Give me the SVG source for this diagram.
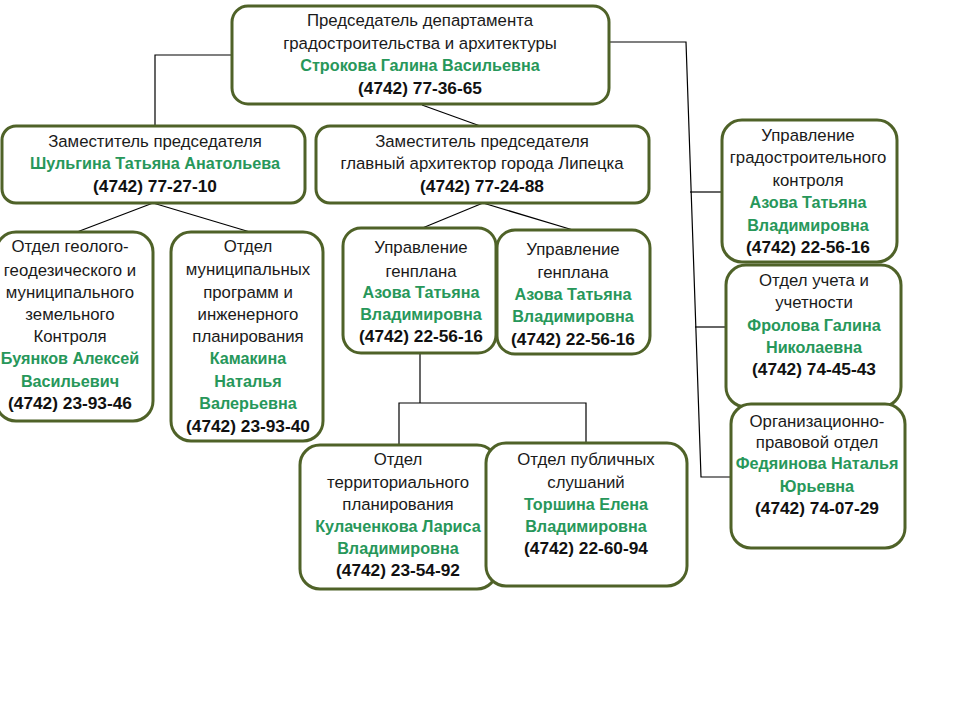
<svg xmlns="http://www.w3.org/2000/svg" width="960" height="720" viewBox="0 0 960 720">
<style>
.box{fill:#ffffff;stroke:#4f6228;stroke-width:3}
.t{font-family:"Liberation Sans",Arial,sans-serif;font-size:16.8px;text-anchor:middle;fill:#1a1a1a}
.g{font-weight:bold;fill:#27975a;font-size:16.2px}
.p{font-weight:bold;fill:#111111;font-size:17.3px}
.ln{stroke:#000000;stroke-width:1.2;fill:none}
</style>
<rect width="960" height="720" fill="#ffffff"/>
<g id="connectors">
<polyline class="ln" points="232,55 155,55 155,127"/>
<line class="ln" x1="422" y1="105" x2="483" y2="127"/>
<polyline class="ln" points="609,42 686,42 701,477 731,477"/>
<line class="ln" x1="690" y1="192" x2="722" y2="192"/>
<line class="ln" x1="695" y1="327" x2="726" y2="327"/>
<line class="ln" x1="153" y1="203" x2="77" y2="232"/>
<line class="ln" x1="153" y1="203" x2="250" y2="232"/>
<line class="ln" x1="483" y1="203" x2="420" y2="229"/>
<line class="ln" x1="483" y1="203" x2="573" y2="230"/>
<polyline class="ln" points="420,353 420,403"/>
<polyline class="ln" points="399,445 399,403 586,403 586,443"/>
</g>
<g id="chair">
<rect class="box" x="232" y="6" width="377" height="98" rx="16"/>
<text class="t" x="420" y="26">Председатель департамента</text>
<text class="t" x="420" y="49">градостроительства и архитектуры</text>
<text class="t g" x="420" y="71">Строкова Галина Васильевна</text>
<text class="t p" x="420" y="94">(4742) 77-36-65</text>
</g>
<g id="deputy1">
<rect class="box" x="2" y="126" width="303" height="77" rx="14"/>
<text class="t" x="155" y="147">Заместитель председателя</text>
<text class="t g" x="155" y="169">Шульгина Татьяна Анатольева</text>
<text class="t p" x="155" y="192">(4742) 77-27-10</text>
</g>
<g id="deputy2">
<rect class="box" x="316" y="126" width="333" height="77" rx="14"/>
<text class="t" x="482" y="147">Заместитель председателя</text>
<text class="t" x="482" y="169">главный архитектор города Липецка</text>
<text class="t p" x="482" y="192">(4742) 77-24-88</text>
</g>
<g id="geo">
<rect class="box" x="-4" y="232" width="157" height="189" rx="20"/>
<text class="t" x="70" y="252">Отдел геолого-</text>
<text class="t" x="70" y="276">геодезического и</text>
<text class="t" x="70" y="298">муниципального</text>
<text class="t" x="70" y="320">земельного</text>
<text class="t" x="70" y="342">Контроля</text>
<text class="t g" x="70" y="364">Буянков Алексей</text>
<text class="t g" x="70" y="387">Васильевич</text>
<text class="t p" x="70" y="409">(4742) 23-93-46</text>
</g>
<g id="mun">
<rect class="box" x="171" y="232" width="152" height="209" rx="20"/>
<text class="t" x="248" y="252">Отдел</text>
<text class="t" x="248" y="275">муниципальных</text>
<text class="t" x="248" y="298">программ и</text>
<text class="t" x="248" y="320">инженерного</text>
<text class="t" x="248" y="342">планирования</text>
<text class="t g" x="248" y="364">Камакина</text>
<text class="t g" x="248" y="387">Наталья</text>
<text class="t g" x="248" y="409">Валерьевна</text>
<text class="t p" x="248" y="432">(4742) 23-93-40</text>
</g>
<g id="genplan1">
<rect class="box" x="343" y="228" width="153" height="125" rx="18"/>
<text class="t" x="421" y="253">Управление</text>
<text class="t" x="421" y="277">генплана</text>
<text class="t g" x="421" y="298">Азова Татьяна</text>
<text class="t g" x="421" y="320">Владимировна</text>
<text class="t p" x="421" y="342">(4742) 22-56-16</text>
</g>
<g id="genplan2">
<rect class="box" x="497" y="230" width="153" height="124" rx="18"/>
<text class="t" x="573" y="255">Управление</text>
<text class="t" x="573" y="278">генплана</text>
<text class="t g" x="573" y="300">Азова Татьяна</text>
<text class="t g" x="573" y="322">Владимировна</text>
<text class="t p" x="573" y="345">(4742) 22-56-16</text>
</g>
<g id="territorial">
<rect class="box" x="300" y="445" width="197" height="144" rx="20"/>
<text class="t" x="398" y="465">Отдел</text>
<text class="t" x="398" y="488">территориального</text>
<text class="t" x="398" y="510">планирования</text>
<text class="t g" x="398" y="532">Кулаченкова Лариса</text>
<text class="t g" x="398" y="554">Владимировна</text>
<text class="t p" x="398" y="576">(4742) 23-54-92</text>
</g>
<g id="public">
<rect class="box" x="486" y="443" width="201" height="143" rx="20"/>
<text class="t" x="586" y="465">Отдел публичных</text>
<text class="t" x="586" y="488">слушаний</text>
<text class="t g" x="586" y="510">Торшина Елена</text>
<text class="t g" x="586" y="532">Владимировна</text>
<text class="t p" x="586" y="554">(4742) 22-60-94</text>
</g>
<g id="control">
<rect class="box" x="722" y="120" width="175" height="142" rx="20"/>
<text class="t" x="808" y="141">Управление</text>
<text class="t" x="808" y="163">градостроительного</text>
<text class="t" x="808" y="186">контроля</text>
<text class="t g" x="808" y="208">Азова Татьяна</text>
<text class="t g" x="808" y="231">Владимировна</text>
<text class="t p" x="808" y="253">(4742) 22-56-16</text>
</g>
<g id="accounting">
<rect class="box" x="726" y="265" width="175" height="142" rx="20"/>
<text class="t" x="814" y="286">Отдел учета и</text>
<text class="t" x="814" y="308">учетности</text>
<text class="t g" x="814" y="331">Фролова Галина</text>
<text class="t g" x="814" y="353">Николаевна</text>
<text class="t p" x="814" y="375">(4742) 74-45-43</text>
</g>
<g id="legal">
<rect class="box" x="731" y="404" width="174" height="144" rx="20"/>
<text class="t" x="817" y="427">Организационно-</text>
<text class="t" x="817" y="448">правовой отдел</text>
<text class="t g" x="817" y="469">Федяинова Наталья</text>
<text class="t g" x="817" y="492">Юрьевна</text>
<text class="t p" x="817" y="514">(4742) 74-07-29</text>
</g>
</svg>
